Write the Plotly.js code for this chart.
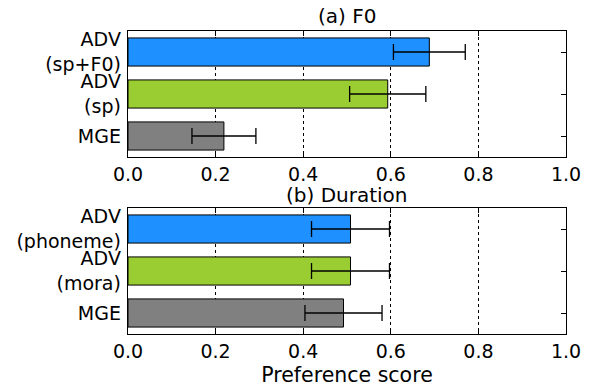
<!DOCTYPE html>
<html>
<head>
<meta charset="utf-8">
<script src="https://cdn.plot.ly/plotly-3.0.1.min.js"></script>
<style>html,body{margin:0;padding:0;background:#fff;}#chart{width:592px;height:387px;}</style>
</head>
<body>
<div id="chart"></div>
<script>
// Data (top-to-bottom order)
const f0Categories = ["ADV<br>(sp+F0)", "ADV<br>(sp)", "MGE"];
const f0Scores = [0.688, 0.593, 0.219];
const f0Errors = [0.082, 0.087, 0.073];

const durCategories = ["ADV<br>(phoneme)", "ADV<br>(mora)", "MGE"];
const durScores = [0.508, 0.508, 0.492];
const durErrors = [0.089, 0.089, 0.088];

const barColors = ["#1E90FF", "#9ACD32", "#808080"];
const xTicks = [0.0, 0.2, 0.4, 0.6, 0.8, 1.0];
const xTickLabels = ["0.0", "0.2", "0.4", "0.6", "0.8", "1.0"];

const FONT = "DejaVu Sans, sans-serif";
const TICK_SIZE = 19;
const TITLE_SIZE = 20;

function barTrace(cats, vals, errs, xa, ya) {
  return {
    type: "bar", orientation: "h",
    y: cats, x: vals, xaxis: xa, yaxis: ya,
    width: 0.67,
    marker: {color: barColors, line: {color: "#000", width: 1}},
    error_x: {type: "data", array: errs, visible: true, color: "#000", thickness: 1.3, width: 8},
    showlegend: false, hoverinfo: "x+y"
  };
}

const data = [
  barTrace(f0Categories, f0Scores, f0Errors, "x", "y"),
  barTrace(durCategories, durScores, durErrors, "x2", "y2")
];

function xAxis(domainAnchor) {
  return {
    domain: [128/592, 566/592], anchor: domainAnchor,
    range: [0, 1], tickvals: xTicks, ticktext: xTickLabels,
    ticks: "inside", ticklen: 5, tickwidth: 1, tickcolor: "#000",
    showline: true, linecolor: "#000", linewidth: 1.3, mirror: "ticks",
    showgrid: true, gridcolor: "#000", griddash: "dot", gridwidth: 1,
    zeroline: false, layer: "below traces", automargin: false,
    tickfont: {family: FONT, size: TICK_SIZE, color: "#000"}
  };
}
function yAxis(cats, domain, anchor) {
  return {
    domain: domain, anchor: anchor, type: "category",
    categoryorder: "array", categoryarray: cats,
    range: [2.5, -0.5],
    ticks: "inside", ticklen: 5, tickwidth: 1, tickcolor: "#000",
    showline: true, linecolor: "#000", linewidth: 1.3, mirror: "ticks",
    showgrid: false, zeroline: false, layer: "below traces", automargin: false,
    ticklabelstandoff: 2,
    tickfont: {family: FONT, size: TICK_SIZE, color: "#000"}
  };
}

const layout = {
  width: 592, height: 387,
  margin: {l: 0, r: 0, t: 0, b: 0},
  paper_bgcolor: "#fff", plot_bgcolor: "#fff",
  font: {family: FONT, size: TITLE_SIZE, color: "#000"},
  bargap: 0,
  xaxis: xAxis("y"),
  yaxis: yAxis(f0Categories, [(387-157)/387, (387-31)/387], "x"),
  xaxis2: Object.assign(xAxis("y2"), {
    title: {text: "Preference score", font: {family: FONT, size: 20.5, color: "#000"}, standoff: 8}
  }),
  yaxis2: yAxis(durCategories, [(387-334)/387, (387-208)/387], "x2"),
  annotations: [
    {text: "(a) F0", xref: "paper", yref: "paper", x: 347/592, y: (387-16)/387,
     xanchor: "center", yanchor: "middle", showarrow: false, font: {family: FONT, size: TITLE_SIZE, color: "#000"}},
    {text: "(b) Duration", xref: "paper", yref: "paper", x: 347/592, y: (387-195)/387,
     xanchor: "center", yanchor: "middle", showarrow: false, font: {family: FONT, size: TITLE_SIZE, color: "#000"}}
  ]
};

Plotly.newPlot("chart", data, layout, {displayModeBar: false, staticPlot: true});
</script>
</body>
</html>
